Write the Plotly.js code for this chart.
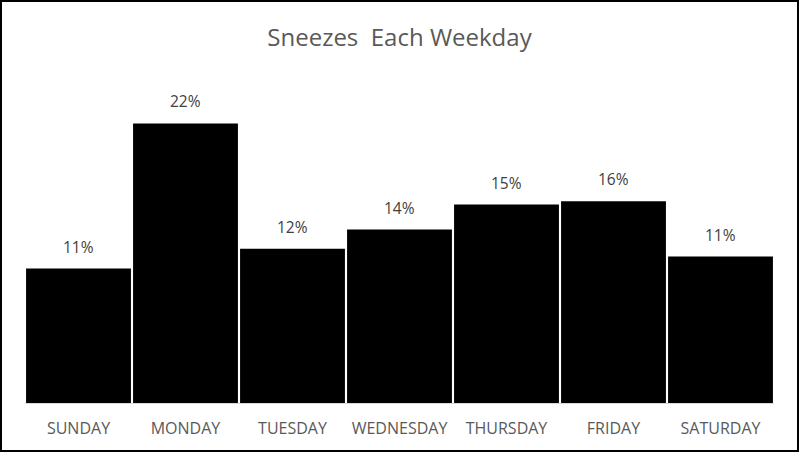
<!DOCTYPE html>
<html>
<head>
<meta charset="utf-8">
<script src="https://cdn.plot.ly/plotly-3.0.1.min.js"></script>
<style>
  html, body { margin: 0; padding: 0; background: #fff; }
  #chart { width: 799px; height: 452px; box-sizing: border-box; border: 2px solid #000; }
</style>
</head>
<body>
<div id="chart"></div>
<script>
// share of sneezes per weekday
var days = ["SUNDAY", "MONDAY", "TUESDAY", "WEDNESDAY", "THURSDAY", "FRIDAY", "SATURDAY"];
var shares = [0.105, 0.2184, 0.1206, 0.1355, 0.155, 0.1577, 0.1144];
var shareLabels = ["11%", "22%", "12%", "14%", "15%", "16%", "11%"];

var bars = {
    type: "bar",
    x: days,
    y: shares,
    marker: { color: "#000000", line: { width: 0 } },
    hoverinfo: "x+y"
};

var labels = days.map(function(d, i) {
    return {
        x: d,
        y: shares[i],
        text: shareLabels[i],
        showarrow: false,
        yanchor: "bottom",
        yshift: 9,
        font: { family: "Open Sans, sans-serif", size: 15.5, color: "#404040" }
    };
});

var layout = {
    width: 795,
    height: 448,
    margin: { l: 23, r: 23, t: 81, b: 47 },
    paper_bgcolor: "#ffffff",
    plot_bgcolor: "#ffffff",
    showlegend: false,
    bargap: 0.02,
    title: {
        text: "Sneezes  Each Weekday",
        font: { family: "Open Sans, sans-serif", size: 24, color: "#595959" },
        x: 0.5,
        xanchor: "center",
        y: 1 - 36 / 448,
        yref: "container",
        yanchor: "middle"
    },
    xaxis: {
        showline: true,
        linecolor: "#d9d9d9",
        linewidth: 1,
        ticks: "",
        showgrid: false,
        zeroline: false,
        tickfont: { family: "Open Sans, sans-serif", size: 16, color: "#595959" },
        ticklabelstandoff: 11
    },
    yaxis: {
        range: [0, 0.25],
        visible: false,
        showgrid: false,
        zeroline: false
    },
    annotations: labels
};

Plotly.newPlot("chart", [bars], layout, { displayModeBar: false, staticPlot: true });
</script>
</body>
</html>
